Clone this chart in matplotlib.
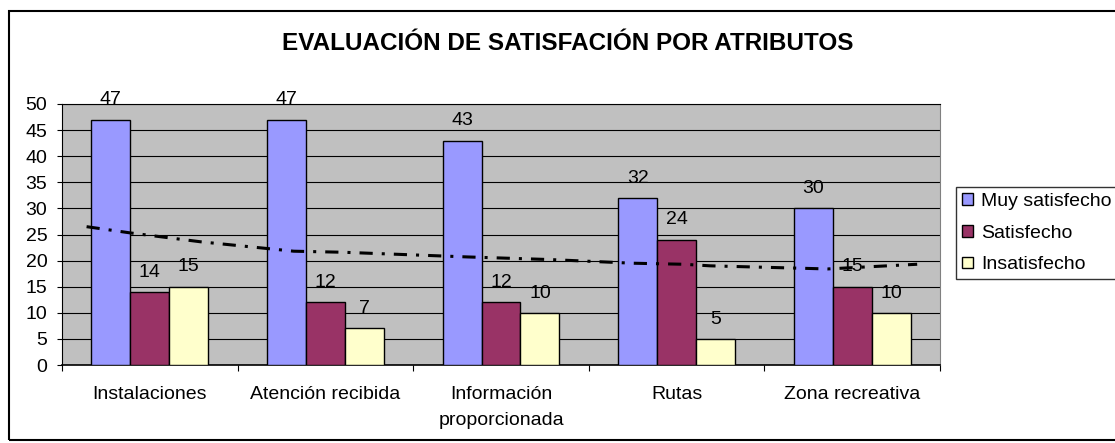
import numpy as np
import matplotlib
matplotlib.use('Agg')
import matplotlib.pyplot as plt
from matplotlib.patches import Rectangle

plt.rcParams['font.family'] = ['Liberation Sans', 'DejaVu Sans']
plt.rcParams['lines.scale_dashes'] = False

# Data
categories = ['Instalaciones', 'Atención recibida', 'Información\nproporcionada',
              'Rutas', 'Zona recreativa']
muy_satisfecho = [47, 47, 43, 32, 30]
satisfecho = [14, 12, 12, 24, 15]
insatisfecho = [15, 7, 10, 5, 10]
series_names = ['Muy satisfecho', 'Satisfecho', 'Insatisfecho']
series_colors = ['#9999FF', '#993366', '#FFFFCC']

# Trend line (dash-dot) values, in category units
trend_x = [-0.36, -0.11, 0.29, 0.82, 1.10, 1.81, 2.28, 2.75, 3.04, 3.19, 3.86, 4.37]
trend_y = [26.5, 25.3, 23.6, 21.8, 21.6, 20.7, 20.2, 19.5, 19.3, 19.0, 18.4, 19.3]

fig = plt.figure(figsize=(11.15, 4.43), dpi=100)
ax = fig.add_axes([62 / 1115, 78 / 443, 878 / 1115, 261 / 443])
ax.set_facecolor('#C0C0C0')

x = np.arange(len(categories))
width = 0.222
all_series = [muy_satisfecho, satisfecho, insatisfecho]
for i, (vals, name, col) in enumerate(zip(all_series, series_names, series_colors)):
    pos = x + (i - 1) * width
    ax.bar(pos, vals, width, color=col, edgecolor='black', linewidth=1.0,
           label=name, zorder=3)
    for px, v in zip(pos, vals):
        ax.annotate(str(v), (px, v), xytext=(0, 11), textcoords='offset points',
                    ha='center', va='baseline', fontsize=14, zorder=5)

ax.plot(trend_x, trend_y, color='black', linewidth=2.2,
        linestyle=(0, (9.5, 6.5, 2.2, 6.5)), zorder=4)

ax.set_xlim(-0.5, 4.5)
ax.set_ylim(0, 50)
ax.set_yticks(range(0, 51, 5))
ax.yaxis.grid(True, color='black', linewidth=0.8, zorder=0)
ax.set_axisbelow(True)

ax.set_xticks(x)
ax.set_xticklabels(categories, fontsize=14, linespacing=1.74)
ax.set_xticks(np.arange(-0.5, 5, 1), minor=True)
ax.tick_params(axis='x', which='major', length=0, pad=15)
ax.tick_params(axis='x', which='minor', length=4.5, width=0.8)
ax.tick_params(axis='y', length=3.6, width=0.8, labelsize=14, pad=7)

for side in ['left', 'bottom', 'top']:
    ax.spines[side].set_color('black')
ax.spines['right'].set_color('#808080')
ax.spines['left'].set_linewidth(0.8)
ax.spines['bottom'].set_linewidth(1.2)

fig.text(0.5 * (280 + 855) / 1115, 1 - 43 / 443,
         'EVALUACIÓN DE SATISFACIÓN POR ATRIBUTOS',
         ha='center', va='center', fontsize=17.5, fontweight='bold')

leg = fig.legend(loc='upper left', bbox_to_anchor=(956 / 1115, 1 - 187 / 443),
                 fontsize=14, frameon=True, fancybox=False, shadow=False,
                 edgecolor='black', handlelength=0.55, handleheight=0.55,
                 handletextpad=0.45, labelspacing=0.76, borderpad=0.3,
                 borderaxespad=0)
leg.get_frame().set_linewidth(1.0)

# Chart area border
fig.patches.append(Rectangle((9 / 1115, 3 / 443), 1.2, 429 / 443,
                             transform=fig.transFigure, fill=False,
                             edgecolor='black', linewidth=1.5))

plt.savefig('out.png', dpi=100)
